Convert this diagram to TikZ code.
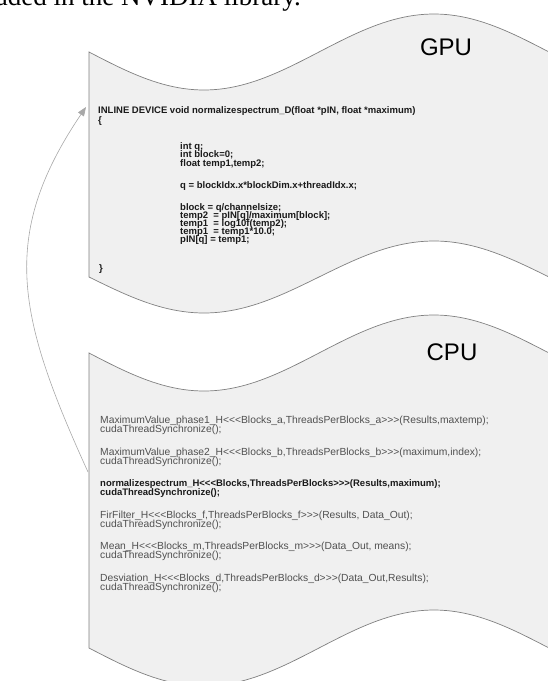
\documentclass[tikz,border=0pt]{standalone}
\usepackage{fontspec}
\newfontfamily\codefont{Liberation Sans}
\newfontfamily\cpufont{Liberation Sans}
\newfontfamily\bodyserif{Liberation Serif}
\usetikzlibrary{arrows.meta}
\definecolor{shapefill}{HTML}{F0F0F0}
\definecolor{shapeedge}{HTML}{808080}
\definecolor{cputext}{HTML}{505050}
\definecolor{gputext}{HTML}{1A1A1A}
\definecolor{arrowgray}{HTML}{A8A8A8}
\tikzset{
  wave/.style={fill=shapefill, draw=shapeedge, line width=0.7bp},
  gcode/.style={anchor=base west, inner sep=0, font=\codefont\bfseries\fontsize{9.5bp}{11bp}\selectfont, text=gputext},
  ccode/.style={anchor=base west, inner sep=0, font=\cpufont\fontsize{10.3bp}{12bp}\selectfont, text=cputext},
  unittitle/.style={inner sep=0, font=\cpufont\fontsize{24bp}{28bp}\selectfont, text=black},
  callarrow/.style={draw=arrowgray, line width=0.6bp, -{Triangle[length=9bp,width=7bp,fill=arrowgray]}},
}
\begin{document}
\begin{tikzpicture}[x=1bp,y=-1bp]
\useasboundingbox (0,0) rectangle (548,681);
\clip (0,0) rectangle (548,681);

% cropped body text of the page
\node[anchor=base east, inner sep=0, font=\bodyserif\fontsize{27bp}{32bp}\selectfont] (caption) at (301,6) {loaded in the NVIDIA library.};

% GPU sheet
\path[wave] (89,277) -- (89,52)
  -- plot[domain=89:556, samples=90] (\x, {52+38*sin(0.78261*(\x-89))})
  -- plot[domain=556:89, samples=90] (\x, {277+36*sin(0.78261*(\x-89))})
  -- cycle;
\node[unittitle] (gpulabel) at (446,47) {GPU};

% CPU sheet
\path[wave] (89,648) -- (89,353)
  -- plot[domain=89:556, samples=90] (\x, {353+38*sin(0.78261*(\x-89))})
  -- plot[domain=556:89, samples=90] (\x, {648+38*sin(0.78261*(\x-89))})
  -- cycle;
\node[unittitle] (cpulabel) at (452,352) {CPU};

% GPU code
\node[gcode] (g1) at (98,113.4) {INLINE DEVICE void normalizespectrum\_D(float *pIN, float *maximum)};
\node[gcode] (g2) at (98,123.4) {\{};
\node[gcode] (g3) at (180,149.4) {int q;};
\node[gcode] (g4) at (180,157.9) {int block=0;};
\node[gcode] (g5) at (180,166.4) {float temp1,temp2;};
\node[gcode] (g6) at (180,188.4) {q = blockIdx.x*blockDim.x+threadIdx.x;};
\node[gcode] (g7) at (180,210.4) {block = q/channelsize;};
\node[gcode] (g8) at (180,218.4) {temp2\ \ = pIN[q]/maximum[block];};
\node[gcode] (g9) at (180,226.4) {temp1\ \ = log10f(temp2);};
\node[gcode] (g10) at (180,234.4) {temp1\ \ = temp1*10.0;};
\node[gcode] (g11) at (180,242.4) {pIN[q] = temp1;};
\node[gcode] (g12) at (99,271.4) {\}};

% CPU code
\node[ccode] (c1) at (100,423.7) {MaximumValue\_phase1\_H<<<Blocks\_a,ThreadsPerBlocks\_a>>>(Results,maxtemp);};
\node[ccode] (c2) at (100,432.7) {cudaThreadSynchronize();};
\node[ccode] (c3) at (100,455.2) {MaximumValue\_phase2\_H<<<Blocks\_b,ThreadsPerBlocks\_b>>>(maximum,index);};
\node[ccode] (c4) at (100,464.2) {cudaThreadSynchronize();};
\node[gcode] (c5) at (100,486.4) {normalizespectrum\_H<<<Blocks,ThreadsPerBlocks>>>(Results,maximum);};
\node[gcode] (c6) at (100,495.4) {cudaThreadSynchronize();};
\node[ccode] (c7) at (100,518.2) {FirFilter\_H<<<Blocks\_f,ThreadsPerBlocks\_f>>>(Results, Data\_Out);};
\node[ccode] (c8) at (100,527.2) {cudaThreadSynchronize();};
\node[ccode] (c9) at (100,549.7) {Mean\_H<<<Blocks\_m,ThreadsPerBlocks\_m>>>(Data\_Out, means);};
\node[ccode] (c10) at (100,558.7) {cudaThreadSynchronize();};
\node[ccode] (c11) at (100,581.2) {Desviation\_H<<<Blocks\_d,ThreadsPerBlocks\_d>>>(Data\_Out,Results);};
\node[ccode] (c12) at (100,590.2) {cudaThreadSynchronize();};

% call from CPU to GPU kernel
\coordinate (cpucall) at (88,472);
\coordinate (gpuentry) at (86,107);
\draw[callarrow] (cpucall) .. controls (18,318) and (-2,237) .. (gpuentry);
\end{tikzpicture}
\end{document}
